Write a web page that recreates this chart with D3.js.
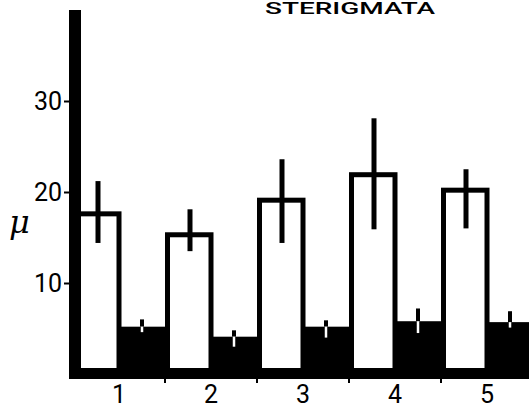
<!DOCTYPE html>
<html>
<head>
<meta charset="utf-8">
<script src="https://cdn.jsdelivr.net/npm/d3@7"></script>
<style>
  body { margin: 0; background: #fff; }
  svg { display: block; }
</style>
</head>
<body>
<svg id="chart" width="529" height="414"></svg>
<script>
// Sterigmata length (μ) for five groups: open bars and solid bars with error ranges
const groups = ["1", "2", "3", "4", "5"];
const openMeans = [17.6, 15.3, 19.1, 21.9, 20.2];
const openHigh = [21.2, 18.1, 23.6, 28.1, 22.5];
const openLow = [14.4, 13.5, 14.4, 15.9, 16.0];
const solidMeans = [5.2, 4.1, 5.2, 5.8, 5.7];
const solidHigh = [6.0, 4.8, 5.9, 7.2, 6.9];
const solidLow = [4.6, 3.0, 4.0, 4.5, 5.1];
const yTicks = [10, 20, 30];
const title = "STERIGMATA";
const unit = "μ";

const W = 529, H = 414;
const svg = d3.select("#chart");
svg.append("rect").attr("width", W).attr("height", H).attr("fill", "#fff");

const x = d3.scaleBand().domain(groups).range([73, 533]).padding(0);
const sub = d3.scaleBand().domain(["open", "solid"]).range([0, x.bandwidth()]).padding(0);
const y = d3.scaleLinear().domain([0, 30]).range([374, 101]);

const font = "Roboto, 'Noto Sans', sans-serif";
const rows = groups.map((g, i) => ({
  g, om: openMeans[i], oh: openHigh[i], ol: openLow[i],
  sm: solidMeans[i], sh: solidHigh[i], sl: solidLow[i]
}));

const plot = svg.append("g");

// solid bars
plot.selectAll("rect.solid").data(rows).join("rect")
  .attr("class", "solid")
  .attr("x", d => x(d.g) + sub("solid"))
  .attr("width", sub.bandwidth())
  .attr("y", d => y(d.sm))
  .attr("height", d => y(0) - y(d.sm))
  .attr("fill", "#000");

// open bars with heavy outline
const sw = 5;
plot.selectAll("rect.open").data(rows).join("rect")
  .attr("class", "open")
  .attr("x", d => x(d.g) + sub("open") + sw / 2)
  .attr("width", sub.bandwidth() - sw / 2)
  .attr("y", d => y(d.om))
  .attr("height", d => y(0) - y(d.om))
  .attr("fill", "#fff")
  .attr("stroke", "#000")
  .attr("stroke-width", sw);

// error lines on open bars
plot.selectAll("line.oerr").data(rows).join("line")
  .attr("class", "oerr")
  .attr("x1", d => x(d.g) + sub("open") + sub.bandwidth() / 2 + 2)
  .attr("x2", d => x(d.g) + sub("open") + sub.bandwidth() / 2 + 2)
  .attr("y1", d => y(d.oh))
  .attr("y2", d => y(d.ol))
  .attr("stroke", "#000")
  .attr("stroke-width", 5);

// error lines on solid bars: black above the bar, white inside it
const sx = d => x(d.g) + sub("solid") + sub.bandwidth() / 2;
plot.selectAll("line.serrUp").data(rows).join("line")
  .attr("class", "serrUp")
  .attr("x1", sx).attr("x2", sx)
  .attr("y1", d => y(d.sh))
  .attr("y2", d => y(d.sm))
  .attr("stroke", "#000")
  .attr("stroke-width", 4);
plot.selectAll("line.serrDown").data(rows).join("line")
  .attr("class", "serrDown")
  .attr("x1", sx).attr("x2", sx)
  .attr("y1", d => y(d.sm))
  .attr("y2", d => y(d.sl))
  .attr("stroke", "#fff")
  .attr("stroke-width", 2.5);

// heavy axis lines
svg.append("rect")
  .attr("x", 69).attr("y", 10)
  .attr("width", 12).attr("height", y(0) + 5 - 10)
  .attr("fill", "#000");
svg.append("rect")
  .attr("x", 69).attr("y", y(0) - 6)
  .attr("width", W - 69).attr("height", 11)
  .attr("fill", "#000");

// y axis ticks and labels
const yAxis = svg.append("g")
  .attr("transform", "translate(69,0)")
  .call(d3.axisLeft(y).tickValues(yTicks).tickSize(5).tickPadding(2));
yAxis.select(".domain").remove();
yAxis.selectAll(".tick line").attr("stroke", "#000").attr("stroke-width", 2);
yAxis.selectAll(".tick text")
  .attr("font-family", font)
  .attr("font-size", 25)
  .attr("font-weight", 400)
  .attr("fill", "#000")
  .attr("dy", "0.34em");

// x axis: group labels and separators
const xAxis = svg.append("g")
  .attr("transform", `translate(0,${y(0) + 5})`)
  .call(d3.axisBottom(x).tickSize(0).tickPadding(6));
xAxis.select(".domain").remove();
xAxis.selectAll(".tick text")
  .attr("font-family", font)
  .attr("font-size", 25)
  .attr("font-weight", 400)
  .attr("fill", "#000")
  .attr("dy", "0.72em");

svg.append("g").selectAll("line").data(groups.slice(1)).join("line")
  .attr("x1", g => x(g)).attr("x2", g => x(g))
  .attr("y1", y(0) + 4).attr("y2", y(0) + 9)
  .attr("stroke", "#000").attr("stroke-width", 2);

// unit label
svg.append("text")
  .attr("x", 9).attr("y", 233)
  .attr("font-family", "'DejaVu Serif', serif")
  .attr("font-style", "italic")
  .attr("font-size", 32)
  .attr("fill", "#000")
  .text(unit);

// title
svg.append("text")
  .attr("x", 350).attr("y", 14)
  .attr("text-anchor", "middle")
  .attr("font-family", font)
  .attr("font-size", 16)
  .attr("font-weight", 500)
  .attr("textLength", 170)
  .attr("lengthAdjust", "spacingAndGlyphs")
  .attr("fill", "#000")
  .text(title);
</script>
</body>
</html>
